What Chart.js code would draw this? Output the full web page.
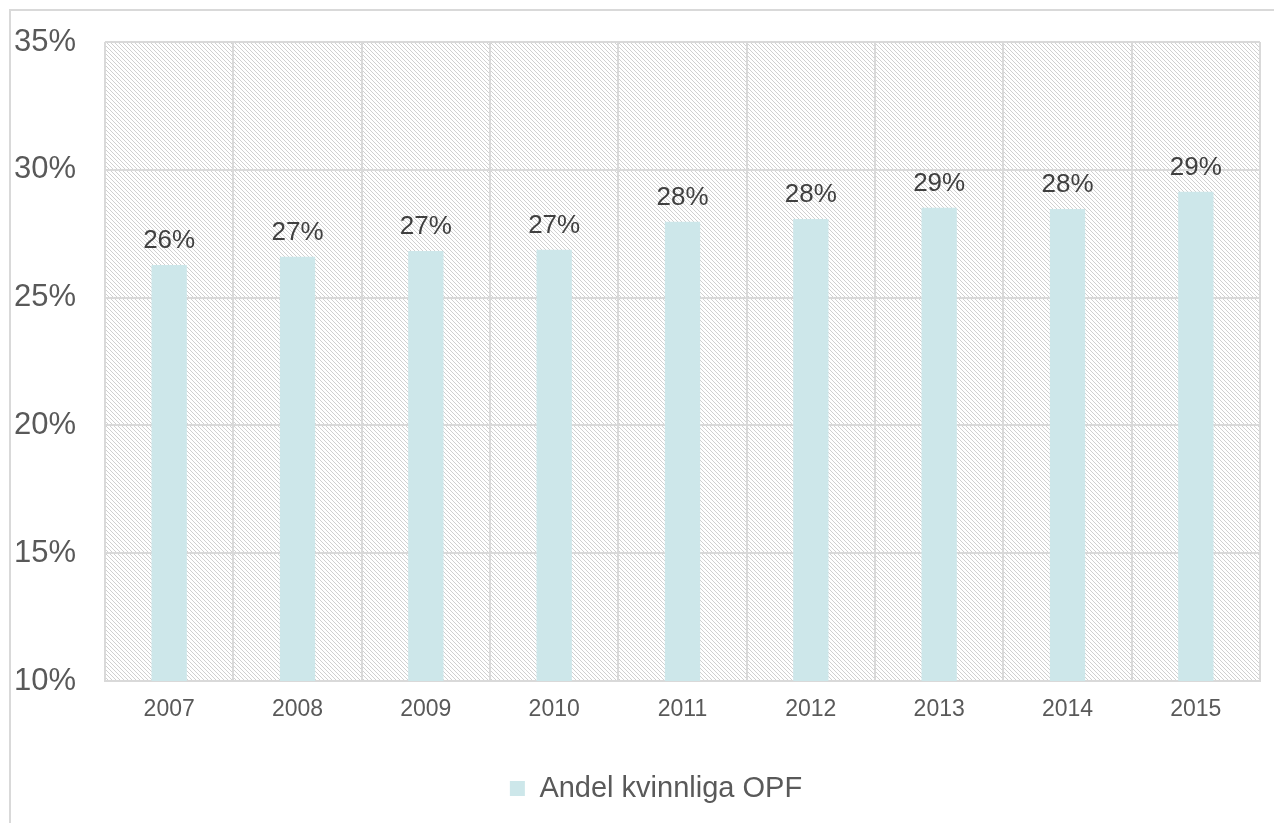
<!DOCTYPE html>
<html>
<head>
<meta charset="utf-8">
<script src="https://cdn.jsdelivr.net/npm/chart.js@4"></script>
<style>
html,body{margin:0;padding:0;background:#fff;}
#wrap{position:absolute;left:0;top:0;width:1274px;height:823px;}
</style>
</head>
<body>
<div id="wrap"><canvas id="c" width="1274" height="823"></canvas></div>
<script>
const categories = ['2007','2008','2009','2010','2011','2012','2013','2014','2015'];
const seriesName = 'Andel kvinnliga OPF';
const values = [26.28, 26.6, 26.82, 26.87, 27.97, 28.08, 28.52, 28.47, 29.14];
const yTicks = [10, 15, 20, 25, 30, 35];

const barColor = '#cde7ea';
const gridColor = '#d9d9d9';
const textColor = '#595959';
const FONT = '"Liberation Sans", Arial, sans-serif';

function makePattern(ctx){
  const s = 4;
  const p = document.createElement('canvas');
  p.width = s; p.height = s;
  const g = p.getContext('2d');
  const img = g.createImageData(s, s);
  for (let y = 0; y < s; y++) {
    for (let x = 0; x < s; x++) {
      const i = (y * s + x) * 4;
      const on = (x === y);
      const c = on ? 208 : 255;
      img.data[i] = c; img.data[i+1] = c; img.data[i+2] = c; img.data[i+3] = 255;
    }
  }
  g.putImageData(img, 0, 0);
  return ctx.createPattern(p, 'repeat');
}

const bgPlugin = {
  id: 'bg',
  beforeDraw(chart){
    const {ctx, chartArea:a} = chart;
    ctx.save();
    ctx.fillStyle = '#fff';
    ctx.fillRect(0,0,chart.width,chart.height);
    ctx.strokeStyle = gridColor;
    ctx.lineWidth = 2;
    ctx.beginPath();
    ctx.moveTo(10, chart.height+5);
    ctx.lineTo(10, 10);
    ctx.lineTo(chart.width+5, 10);
    ctx.stroke();
    ctx.fillStyle = makePattern(ctx);
    ctx.fillRect(a.left, a.top, a.right-a.left, a.bottom-a.top);
    ctx.restore();
  }
};

const labelPlugin = {
  id: 'vlabels',
  afterDatasetsDraw(chart){
    const {ctx} = chart;
    const meta = chart.getDatasetMeta(0);
    ctx.save();
    ctx.font = '26px ' + FONT;
    ctx.fillStyle = '#404040';
    ctx.textAlign = 'center';
    ctx.textBaseline = 'middle';
    meta.data.forEach((el,i)=>{
      ctx.fillText(Math.round(values[i]) + '%', el.x, el.y - 24);
    });
    ctx.restore();
  }
};

new Chart(document.getElementById('c'), {
  type: 'bar',
  data: {
    labels: categories,
    datasets: [{
      label: seriesName,
      data: values,
      backgroundColor: barColor,
      borderWidth: 0,
      barPercentage: 0.275,
      categoryPercentage: 1.0
    }]
  },
  options: {
    responsive: false,
    animation: false,
    devicePixelRatio: 1,
    layout: { padding: { left: 52, right: 14, top: 42, bottom: 10 } },
    plugins: {
      legend: {
        position: 'bottom',
        labels: {
          color: textColor,
          font: { size: 29, family: FONT },
          boxWidth: 15, boxHeight: 15,
          padding: 10
        }
      },
      tooltip: { enabled: false }
    },
    scales: {
      x: {
        grid: { color: gridColor, lineWidth: 2, offset: true, drawTicks: false },
        border: { color: gridColor, width: 2 },
        afterFit(axis){ axis.height = 83; },
        ticks: {
          color: textColor,
          font: { size: 23, family: FONT },
          padding: 15
        }
      },
      y: {
        min: yTicks[0], max: yTicks[yTicks.length-1],
        afterBuildTicks(axis){ axis.ticks = yTicks.map(v=>({value:v})); },
        afterFit(axis){ axis.width = 53; },
        grid: { color: gridColor, lineWidth: 2, drawTicks: false },
        border: { display: false },
        ticks: {
          color: textColor,
          mirror: true,
          padding: -91,
          font: { size: 31, family: FONT },
          callback: v => v + '%'
        }
      }
    }
  },
  plugins: [bgPlugin, labelPlugin]
});
</script>
</body>
</html>
